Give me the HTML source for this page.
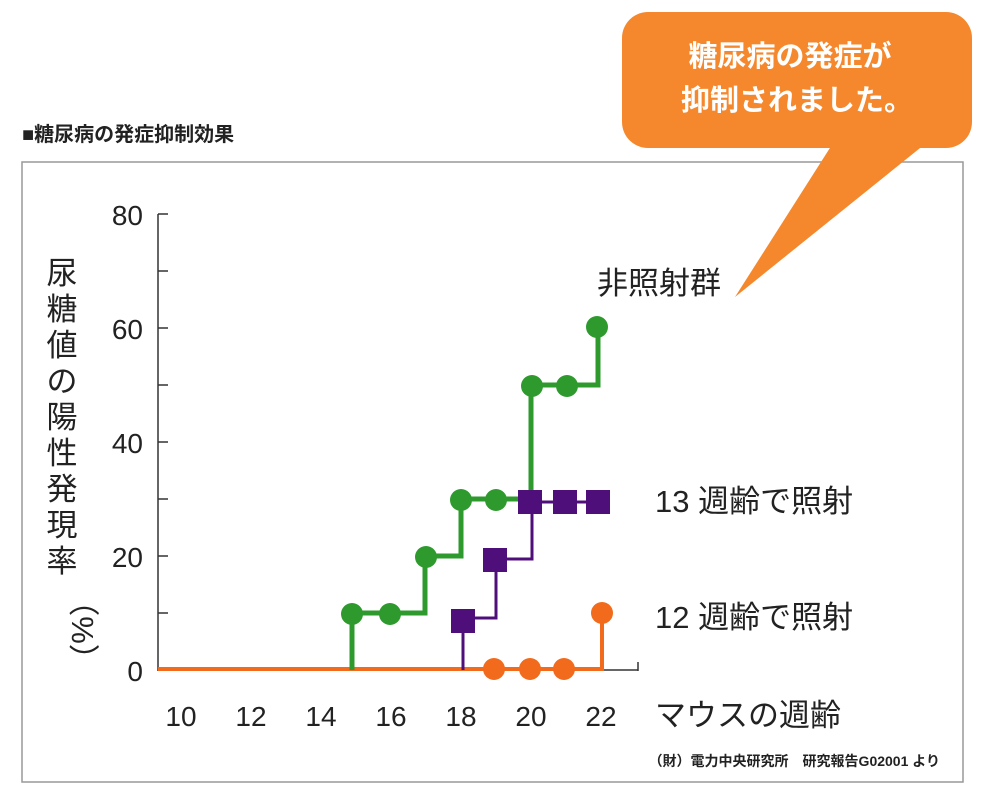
<!DOCTYPE html>
<html><head><meta charset="utf-8"><style>
body{margin:0;background:#fff;}
svg{display:block;font-family:"Liberation Sans","Noto Sans CJK JP",sans-serif;}
</style></head><body>
<svg width="987" height="807" viewBox="0 0 987 807">
<rect width="987" height="807" fill="#fff"/>
<rect x="22" y="162" width="941" height="620" fill="none" stroke="#999" stroke-width="1.5"/>
<text x="22" y="141" font-size="20" font-weight="bold" fill="#222">■糖尿病の発症抑制効果</text>
<!-- callout -->
<path d="M835 140 L735 297 L930 140 Z" fill="#f5882c"/>
<rect x="622" y="12" width="350" height="136" rx="26" fill="#f5882c"/>
<text x="790" y="66" font-size="29" font-weight="bold" fill="#fff" text-anchor="middle">糖尿病の発症が</text>
<text x="797" y="110" font-size="29" font-weight="bold" fill="#fff" text-anchor="middle">抑制されました。</text>
<!-- axes -->
<g stroke="#333" stroke-width="1.5" fill="none">
<line x1="158" y1="214" x2="158" y2="671"/>
<line x1="158" y1="670" x2="638" y2="670"/>
<line x1="638" y1="662" x2="638" y2="671"/>
<path d="M158 214h10M158 271h10M158 328h10M158 385h10M158 442h10M158 499h10M158 556h10M158 613h10"/>
</g>
<g font-size="28" fill="#222" text-anchor="end">
<text x="143" y="225">80</text><text x="143" y="339">60</text><text x="143" y="453">40</text><text x="143" y="567">20</text><text x="143" y="681">0</text>
</g>
<g font-size="28" fill="#222" text-anchor="middle">
<text x="181" y="726">10</text><text x="251" y="726">12</text><text x="321" y="726">14</text><text x="391" y="726">16</text><text x="461" y="726">18</text><text x="531" y="726">20</text><text x="601" y="726">22</text>
</g>
<text x="655" y="726" font-size="31" fill="#222">マウスの週齢</text>
<g font-size="31" fill="#222" text-anchor="middle">
<text x="62" y="284">尿</text><text x="62" y="320">糖</text><text x="62" y="356">値</text><text x="62" y="392">の</text><text x="62" y="428">陽</text><text x="62" y="464">性</text><text x="62" y="500">発</text><text x="62" y="536">現</text><text x="62" y="572">率</text>
<text x="62" y="620" transform="rotate(90 62 630)">（%）</text>
</g>
<text x="597" y="294" font-size="31" fill="#222">非照射群</text>
<text x="655" y="512" font-size="31" fill="#222">13 週齢で照射</text>
<text x="655" y="628" font-size="31" fill="#222">12 週齢で照射</text>
<text x="940" y="766" font-size="14" font-weight="bold" fill="#222" text-anchor="end">（財）電力中央研究所　研究報告G02001 より</text>
<!-- orange -->
<path d="M158 669 H602 V613" stroke="#f26a1b" stroke-width="4" fill="none"/>
<g fill="#f26a1b"><circle cx="494" cy="669" r="11"/><circle cx="530" cy="669" r="11"/><circle cx="564" cy="669" r="11"/><circle cx="602" cy="613" r="11"/></g>
<!-- green -->
<path d="M352 670 V613 H425 V556 H461 V499 H531 V385 H598 V328" stroke="#2e9a2e" stroke-width="5" fill="none"/>
<g fill="#2e9a2e"><circle cx="352" cy="614" r="11"/><circle cx="390" cy="614" r="11"/><circle cx="426" cy="557" r="11"/><circle cx="461" cy="500" r="11"/><circle cx="496" cy="500" r="11"/><circle cx="532" cy="386" r="11"/><circle cx="567" cy="386" r="11"/><circle cx="597" cy="327" r="11"/></g>
<!-- purple -->
<path d="M463 670 V618 H496 V559 H532 V502 H598" stroke="#4f0f7a" stroke-width="3" fill="none"/>
<g fill="#4f0f7a"><rect x="451" y="609" width="24" height="24"/><rect x="483" y="548" width="24" height="24"/><rect x="518" y="490" width="24" height="24"/><rect x="553" y="490" width="24" height="24"/><rect x="586" y="490" width="24" height="24"/></g>
</svg>
</body></html>
